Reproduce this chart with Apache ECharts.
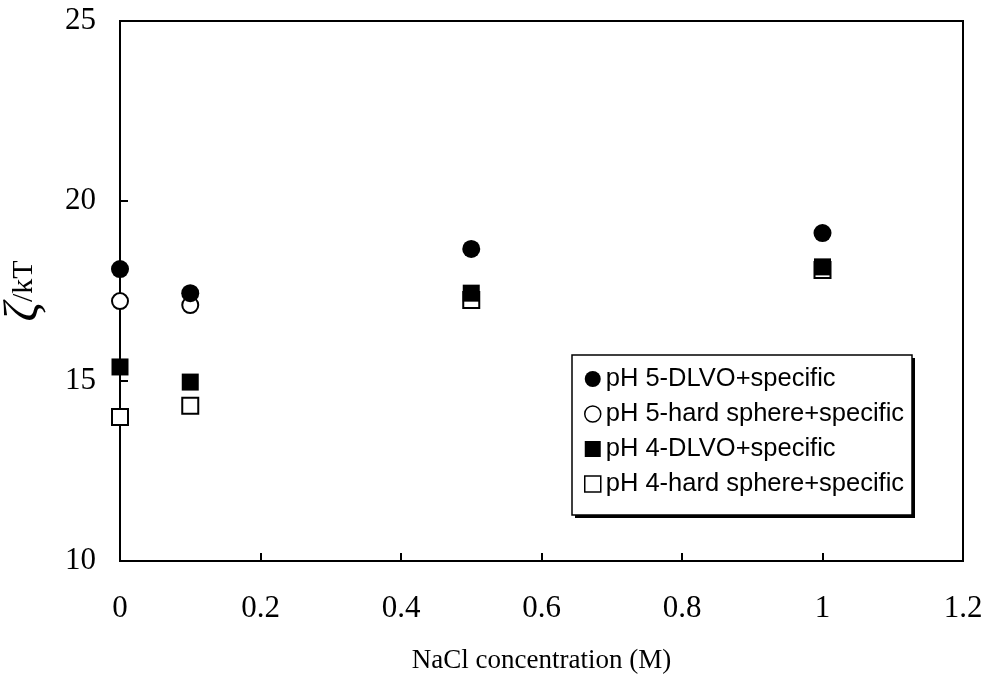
<!DOCTYPE html>
<html>
<head>
<meta charset="utf-8">
<script src="https://cdn.jsdelivr.net/npm/echarts@6/dist/echarts.min.js"></script>
<style>html,body{margin:0;padding:0;background:#fff;}#c{width:991px;height:689px;}</style>
</head>
<body>
<div id="c"></div>
<script>
const seriesNames = ['pH 5-DLVO+specific', 'pH 5-hard sphere+specific', 'pH 4-DLVO+specific', 'pH 4-hard sphere+specific'];
const xPH5DLVO = [0, 0.1, 0.5, 1];
const yPH5DLVO = [18.11, 17.44, 18.67, 19.11];
const xPH5Hard = [0, 0.1];
const yPH5Hard = [17.22, 17.11];
const xPH4DLVO = [0, 0.1, 0.5, 1];
const yPH4DLVO = [15.39, 14.97, 17.44, 18.17];
const xPH4Hard = [0, 0.1, 0.5, 1];
const yPH4Hard = [14.0, 14.31, 17.25, 18.08];

const pairs = (xs, ys) => xs.map((x, i) => [x, ys[i]]);
const serif = 'Liberation Serif';
const sans = 'Liberation Sans';

const chart = echarts.init(document.getElementById('c'), null, {renderer: 'canvas'});
chart.setOption({
  backgroundColor: '#fff',
  animation: false,
  grid: {left: 120, right: 28, top: 21, bottom: 128, containLabel: false, outerBoundsMode: 'none',
         show: true, borderColor: '#000', borderWidth: 2, backgroundColor: 'transparent'},
  graphic: [
    {type: 'rect', z: 5, shape: {x: 575, y: 358, width: 340, height: 160}, style: {fill: '#000'}},
    {type: 'rect', z: 6, shape: {x: 572, y: 355, width: 340, height: 160}, style: {fill: '#fff', stroke: '#000', lineWidth: 1.5}}
  ],
  xAxis: {
    type: 'value', min: 0, max: 1.2, interval: 0.2,
    axisLine: {show: true, lineStyle: {color: '#000', width: 2}},
    axisTick: {show: true, inside: true, length: 8, lineStyle: {color: '#000', width: 2}},
    axisLabel: {color: '#000', fontFamily: serif, fontSize: 31, margin: 32},
    splitLine: {show: false},
    name: 'NaCl concentration (M)', nameLocation: 'middle', nameGap: 86,
    nameTextStyle: {color: '#000', fontFamily: serif, fontSize: 27}
  },
  yAxis: {
    type: 'value', min: 10, max: 25, interval: 5,
    axisLine: {show: true, lineStyle: {color: '#000', width: 2}},
    axisTick: {show: true, inside: true, length: 8, lineStyle: {color: '#000', width: 2}},
    axisLabel: {color: '#000', fontFamily: serif, fontSize: 31, margin: 24},
    splitLine: {show: false},
    name: '{z|ζ}{k|/kT}', nameLocation: 'middle', nameGap: 72,
    nameTextStyle: {
      color: '#000', fontFamily: serif,
      rich: {
        z: {fontFamily: serif, fontSize: 48, fontStyle: 'italic', color: '#000'},
        k: {fontFamily: serif, fontSize: 30, color: '#000'}
      }
    }
  },
  legend: {
    orient: 'vertical', left: 572, top: 355, z: 10,
    padding: [11, 10, 20, 12],
    itemWidth: 16, itemHeight: 16, itemGap: 9,
    textStyle: {color: '#000', fontFamily: sans, fontSize: 25.5, lineHeight: 24},
    data: [
      {name: seriesNames[0], icon: 'circle'},
      {name: seriesNames[1], icon: 'circle', itemStyle: {color: '#fff', borderColor: '#000', borderWidth: 1.5}},
      {name: seriesNames[2], icon: 'rect'},
      {name: seriesNames[3], icon: 'rect', itemStyle: {color: '#fff', borderColor: '#000', borderWidth: 1.5}}
    ]
  },
  series: [
    {name: seriesNames[1], type: 'scatter', symbol: 'circle', symbolSize: 16, z: 2,
     itemStyle: {color: '#fff', borderColor: '#000', borderWidth: 2, opacity: 1}, data: pairs(xPH5Hard, yPH5Hard)},
    {name: seriesNames[3], type: 'scatter', symbol: 'rect', symbolSize: 16, z: 2,
     itemStyle: {color: '#fff', borderColor: '#000', borderWidth: 2, opacity: 1}, data: pairs(xPH4Hard, yPH4Hard)},
    {name: seriesNames[0], type: 'scatter', symbol: 'circle', symbolSize: 18, z: 3,
     itemStyle: {color: '#000', opacity: 1}, data: pairs(xPH5DLVO, yPH5DLVO)},
    {name: seriesNames[2], type: 'scatter', symbol: 'rect', symbolSize: 17, z: 3,
     itemStyle: {color: '#000', opacity: 1}, data: pairs(xPH4DLVO, yPH4DLVO)}
  ]
});
</script>
</body>
</html>
